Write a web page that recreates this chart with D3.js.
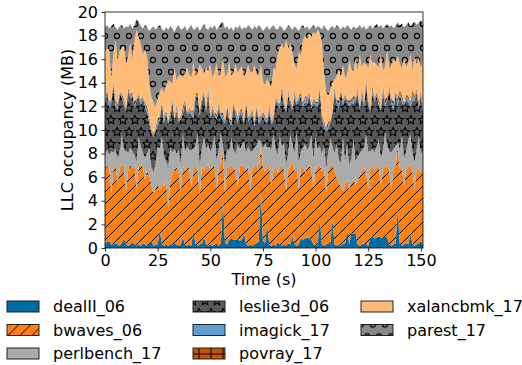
<!DOCTYPE html>
<html>
<head>
<meta charset="utf-8">
<script src="https://cdn.jsdelivr.net/npm/d3@7/dist/d3.min.js"></script>
<style>
  body { margin: 0; background: #fff; }
  svg text { font-family: "DejaVu Sans", sans-serif; }
</style>
</head>
<body>
<div id="chart"></div>
<script>
// benchmarks, in stacking order (bottom -> top)
const benchmarks = ["dealII_06", "bwaves_06", "perlbench_17", "leslie3d_06",
  "imagick_17", "povray_17", "xalancbmk_17", "parest_17"];

// sampled once per second, 0..151 s
const time = d3.range(0, 152);

// LLC occupancy per benchmark (MB)
const dealII = [
  0.4,0.5,0.6,0.3,0.3,0.4,0.3,0.2,0.4,0.8, 0.3,0.2,0.3,0.5,0.3,0.2,0.3,0.2,0.4,0.3,
  0.2,0.3,0.6,0.2,0.3,0.3,1.5,0.3,0.2,0.3, 0.2,0.3,0.2,0.4,0.3,0.2,0.3,0.9,0.3,0.2,
  0.3,0.2,1.4,0.3,0.2,0.3,0.4,0.9,0.3,0.2, 0.3,0.2,0.3,0.4,0.2,0.3,4.2,0.4,0.3,0.7,
  0.8,0.7,0.7,0.8,0.6,0.7,1.2,0.3,0.2,0.3, 0.2,0.3,0.4,0.5,4.8,0.6,0.4,2.0,0.3,0.2,
  0.3,0.2,0.5,0.3,0.2,0.3,0.2,0.4,0.3,1.0, 0.3,0.2,0.3,0.8,0.7,0.8,0.9,0.8,0.7,0.3,
  0.2,0.3,2.5,0.3,0.2,0.3,0.4,0.3,2.4,0.3, 0.2,0.3,0.2,0.3,0.4,1.5,0.3,1.3,1.2,1.3,
  0.3,0.2,0.3,0.4,0.3,0.2,0.9,1.0,0.8,0.9, 1.0,0.9,0.8,1.0,0.9,0.3,0.2,0.3,0.4,3.4,
  0.3,0.2,0.3,0.4,0.3,1.2,0.3,0.2,0.3,0.4,0.6,0.3];

const bwaves = [
  6.4,6.5,6.3,4.3,6.4,6.7,5.2,6.6,6.8,6.1, 4.5,6.4,6.7,6.3,6.8,4.8,6.6,7.0,6.4,5.5,
  6.4,5.9,4.8,4.4,4.7,5.3,3.3,5.2,5.0,5.5, 3.2,5.3,6.1,6.2,6.5,6.3,4.5,6.0,6.3,6.8,
  6.4,5.0,5.4,6.7,6.3,4.2,6.5,5.7,6.5,6.9, 6.4,6.7,6.7,4.6,6.6,6.8,4.0,4.2,6.6,6.0,
  6.2,6.1,5.8,4.4,6.3,6.4,5.6,6.3,6.8,4.5, 6.5,6.6,6.7,6.1,3.9,6.2,6.1,4.9,6.7,5.0,
  6.3,6.7,5.9,6.5,6.8,6.3,4.7,6.3,6.6,6.3, 6.2,6.6,4.7,5.9,6.2,5.6,5.9,6.2,5.9,4.8,
  6.5,6.6,4.5,6.2,6.6,4.4,6.2,6.6,4.7,6.2, 5.8,5.3,5.0,4.5,5.0,4.3,4.7,4.2,4.7,4.0,
  5.5,5.9,6.3,6.4,6.1,4.8,5.8,5.9,5.8,6.1, 5.8,4.5,5.9,5.9,6.1,6.3,4.6,6.5,6.6,5.2,
  6.4,6.7,5.0,6.2,6.5,5.9,6.2,4.7,6.5,6.3,5.8,6.3];

const perlbench = [
  1.2,1.3,1.0,3.6,1.4,1.3,2.1,1.4,2.4,1.4, 3.4,1.5,1.5,1.4,0.8,2.3,2.5,1.4,1.3,1.8,
  1.4,2.3,1.5,1.8,2.2,3.0,3.6,4.0,2.6,1.6, 3.4,2.9,1.8,1.8,1.2,1.8,2.3,2.8,1.6,1.6,
  1.6,3.1,1.6,1.7,3.3,2.5,1.6,2.8,1.6,1.7, 1.5,1.6,2.6,2.4,1.5,2.6,0.5,2.4,1.5,1.5,
  2.4,1.5,1.5,3.6,1.5,1.6,2.3,1.5,1.6,3.4, 1.5,1.6,1.6,2.6,0.3,1.6,2.4,1.6,1.6,3.1,
  3.1,1.5,1.5,2.7,1.6,2.3,2.1,1.5,2.7,1.6, 1.5,3.1,2.3,1.5,1.6,2.5,1.5,1.6,3.0,2.4,
  2.7,1.5,1.6,1.5,1.9,2.1,1.5,2.4,1.5,1.5, 2.9,1.9,2.0,4.6,2.0,3.0,2.0,2.1,3.3,2.1,
  2.0,1.9,1.7,1.7,3.3,3.2,1.5,1.5,1.5,1.6, 2.4,2.2,1.6,2.9,1.7,1.6,3.3,1.6,1.6,0.4,
  1.6,2.7,2.3,1.6,2.4,2.5,1.6,2.4,1.6,2.8,1.6,1.6];

const leslie3d = [
  4.2,5.0,4.0,4.1,5.7,3.6,4.1,4.8,3.2,3.8, 3.4,5.2,4.2,4.7,4.0,5.2,3.4,3.5,4.6,4.4,
  3.5,2.1,2.9,3.0,2.7,1.8,2.4,2.7,2.8,4.1, 3.7,2.5,4.3,2.4,3.6,2.4,3.8,1.7,4.1,2.6,
  3.2,3.0,2.6,4.1,3.0,4.2,3.9,3.6,3.1,4.4, 2.8,3.0,1.6,3.5,3.6,1.4,2.1,3.6,3.5,2.5,
  1.0,3.8,3.3,1.8,3.0,2.5,1.4,4.1,2.1,2.8, 3.2,1.8,3.2,1.3,1.9,2.9,1.8,2.1,3.0,2.2,
  1.1,4.0,4.3,2.3,4.8,3.1,4.5,4.7,2.7,2.8, 4.8,2.2,5.2,4.6,3.5,3.5,3.9,4.4,2.2,4.8,
  2.7,3.5,4.8,3.0,1.5,3.1,2.0,1.3,2.8,5.1, 3.4,4.3,6.1,2.7,5.4,3.6,5.0,4.7,3.0,5.1,
  5.2,3.7,4.6,3.4,4.2,3.9,3.3,4.6,4.3,4.3, 2.9,4.0,4.9,2.2,3.8,5.1,4.1,3.3,4.5,3.0,
  4.7,2.7,4.5,4.3,3.2,2.4,4.4,5.2,4.9,2.3,4.9,3.4];

const imagick = [
  0.2,0.1,0.3,0.2,0.1,0.4,0.2,0.1,0.2,0.3, 0.1,0.2,0.1,0.3,0.2,0.1,0.2,0.3,0.1,0.2,
  0.3,0.5,0.2,0.1,0.2,0.3,0.2,0.1,0.4,0.2, 0.2,0.3,0.1,0.2,0.4,0.2,0.1,0.3,0.2,0.1,
  0.3,0.2,0.5,0.2,0.1,0.3,0.2,0.4,0.2,0.3, 0.2,0.4,0.2,0.1,0.3,0.2,0.5,0.2,0.3,0.1,
  0.3,0.2,0.1,0.4,0.2,0.3,0.2,0.1,0.3,0.2, 0.2,0.3,0.2,0.4,0.2,0.1,0.3,0.2,0.4,0.2,
  0.3,0.2,0.1,0.3,0.2,0.4,0.2,0.3,0.1,0.2, 0.4,0.2,0.3,0.1,0.2,0.3,0.5,0.2,0.1,0.3,
  0.2,0.3,0.1,0.2,0.4,0.2,0.3,0.1,0.2,0.3, 0.2,0.4,0.1,0.3,0.2,0.1,0.3,0.2,0.4,0.2,
  0.3,0.2,0.4,0.1,0.2,0.3,0.2,0.5,0.2,0.1, 0.3,0.2,0.4,0.2,0.1,0.3,0.2,0.5,0.2,0.3,
  0.2,0.4,0.1,0.3,0.2,0.3,0.5,0.2,0.1,0.3,0.2,0.3];

const povray = [
  0.1,0.2,0.1,0.1,0.2,0.1,0.3,0.1,0.1,0.2, 0.1,0.1,0.2,0.1,0.3,0.1,0.1,0.2,0.1,0.1,
  0.2,0.1,0.1,0.2,0.1,0.3,0.1,0.2,0.1,0.1, 0.1,0.2,0.1,0.1,0.2,0.1,0.1,0.3,0.1,0.2,
  0.1,0.1,0.2,0.1,0.3,0.1,0.2,0.1,0.1,0.2, 0.1,0.2,0.1,0.3,0.1,0.1,0.2,0.1,0.1,0.2,
  0.1,0.1,0.2,0.1,0.1,0.3,0.1,0.2,0.1,0.1, 0.2,0.1,0.1,0.2,0.1,0.1,0.2,0.1,0.3,0.1,
  0.1,0.2,0.1,0.1,0.3,0.1,0.1,0.2,0.1,0.1, 0.2,0.1,0.1,0.3,0.1,0.2,0.1,0.1,0.2,0.1,
  0.1,0.2,0.1,0.1,0.2,0.1,0.3,0.1,0.1,0.2, 0.1,0.3,0.1,0.2,0.1,0.1,0.2,0.1,0.3,0.1,
  0.2,0.1,0.3,0.2,0.4,0.1,0.2,0.3,0.1,0.2, 0.3,0.1,0.2,0.4,0.2,0.1,0.3,0.2,0.1,0.4,
  0.2,0.3,0.1,0.2,0.3,0.1,0.4,0.2,0.1,0.2,0.3,0.1];

const xalancbmk = [
  4.1,3.3,4.5,1.7,2.4,5.1,3.7,3.5,3.9,4.5, 3.8,2.7,4.4,2.7,5.2,5.8,4.8,4.6,3.5,4.5,
  4.2,2.8,2.7,2.6,1.8,1.6,2.1,1.1,2.0,2.0, 3.4,2.6,1.3,4.2,2.0,3.6,3.5,2.5,2.2,3.8,
  2.8,2.8,4.1,1.5,1.7,4.0,2.4,1.3,3.5,1.3, 4.3,2.3,3.4,4.4,2.3,3.4,4.8,3.6,2.4,4.8,
  3.8,2.5,4.0,3.7,3.5,3.6,3.7,2.4,4.4,3.5, 3.2,4.8,2.6,3.5,4.3,2.7,2.6,3.4,1.7,2.9,
  4.0,2.4,4.0,4.8,3.4,4.3,5.9,3.5,4.9,4.5, 2.2,2.8,3.7,3.1,5.3,5.1,4.9,4.9,5.8,5.6,
  5.7,6.1,4.6,6.1,4.0,3.0,2.2,2.6,2.3,0.7, 2.0,2.6,1.0,2.9,1.3,2.1,3.4,2.6,2.1,3.2,
  1.6,4.4,1.7,3.5,1.1,2.7,4.5,1.9,3.0,2.3, 2.6,4.5,1.2,2.8,4.0,1.5,2.8,3.6,2.4,3.6,
  2.2,2.2,3.8,2.3,2.8,4.0,1.7,3.3,2.1,3.8,1.8,4.0];

const parest = [
  2.1,2.0,1.8,4.5,2.5,1.1,2.6,2.1,1.9,1.5, 3.2,2.4,1.6,2.6,1.3,0.9,1.3,1.6,2.2,2.1,
  2.5,4.4,5.8,6.5,6.5,6.1,5.7,5.0,5.3,4.9, 4.3,4.7,4.7,3.0,4.5,4.3,3.9,4.1,4.0,3.1,
  4.0,4.5,2.7,4.0,3.9,2.8,3.5,4.2,3.3,3.5, 3.2,4.2,4.0,2.8,4.1,4.2,2.9,4.1,4.1,2.7,
  4.1,3.5,3.2,3.8,3.7,3.1,4.2,3.7,3.4,3.9, 3.5,3.3,3.8,4.3,3.2,4.2,4.8,4.5,4.5,5.0,
  3.7,3.4,2.1,1.8,1.4,1.6,0.9,2.0,1.3,2.0, 3.2,3.4,1.8,2.4,1.3,0.6,1.1,0.3,0.8,0.6,
  0.5,0.3,0.5,1.1,4.1,5.4,5.5,5.3,4.8,4.3, 4.3,3.6,4.0,3.3,4.2,4.2,2.8,3.3,3.8,2.6,
  3.6,2.5,3.3,3.1,2.9,3.5,2.5,2.9,3.1,3.5, 3.4,2.5,3.6,3.4,2.2,3.5,3.4,2.6,3.0,2.8,
  3.3,3.8,2.6,3.6,3.4,2.4,3.9,3.0,3.3,3.0,4.1,3.0];

const yTicks = [0, 2, 4, 6, 8, 10, 12, 14, 16, 18, 20];
const xTicks = [0, 25, 50, 75, 100, 125, 150];

const seriesValues = [dealII, bwaves, perlbench, leslie3d, imagick, povray, xalancbmk, parest];
const fills = ["#006BA4", "#FF800E", "#ABABAB", "#595959", "#5F9ED1", "#C85200", "#FFBC79", "#898989"];
const hatches = [null, "slash", null, "star", null, "plus", null, "circle"];

// rows for d3.stack
const rows = time.map((t, i) => {
  const r = { t: t };
  benchmarks.forEach((b, j) => { r[b] = seriesValues[j][i]; });
  return r;
});

const W = 522, H = 365;
const margin = { top: 12, right: 99, bottom: 117, left: 105 };
const width = W - margin.left - margin.right;
const height = H - margin.top - margin.bottom;

const svg = d3.select("#chart").append("svg")
  .attr("width", W).attr("height", H);

// hatch patterns (matplotlib style, 12px cells)
const defs = svg.append("defs");
function addPattern(id, color, kind) {
  const tall = (kind === "star" || kind === "circle");
  const p = defs.append("pattern").attr("id", id)
    .attr("patternUnits", "userSpaceOnUse")
    .attr("width", 12).attr("height", tall ? 24 : 12);
  p.append("rect").attr("width", 12).attr("height", tall ? 24 : 12).attr("fill", color);
  if (kind === "slash") {
    p.append("path").attr("d", "M0,12L12,0M-6,6L6,-6M6,18L18,6")
      .attr("stroke", "#000").attr("stroke-width", 1).attr("fill", "none");
  } else if (kind === "plus") {
    p.append("path").attr("d", "M6,0V12M0,6H12")
      .attr("stroke", "#000").attr("stroke-width", 1).attr("fill", "none");
  } else {
    const pts = [[0, 0], [12, 0], [6, 12], [0, 24], [12, 24]];
    pts.forEach(([cx, cy]) => {
      if (kind === "circle") {
        p.append("circle").attr("cx", cx).attr("cy", cy).attr("r", 2.6)
          .attr("fill", "none").attr("stroke", "#000").attr("stroke-width", 1.2);
      } else {
        const star = d3.range(10).map(k => {
          const a = Math.PI / 2 + k * Math.PI / 5;
          const rr = k % 2 === 0 ? 4.5 : 2.2;
          return [cx + rr * Math.cos(a), cy - rr * Math.sin(a)];
        });
        p.append("path").attr("d", "M" + star.join("L") + "Z")
          .attr("fill", "none").attr("stroke", "#000").attr("stroke-width", 1.1);
      }
    });
  }
}
benchmarks.forEach((b, j) => {
  if (hatches[j]) addPattern("hatch" + j, fills[j], hatches[j]);
});
const fillOf = j => hatches[j] ? "url(#hatch" + j + ")" : fills[j];

const g = svg.append("g")
  .attr("transform", "translate(" + margin.left + "," + margin.top + ")");

const x = d3.scaleLinear().domain([0, 151]).range([0, width]);
const y = d3.scaleLinear().domain([0, 20]).range([height, 0]);

const stacked = d3.stack().keys(benchmarks)(rows);
const area = d3.area()
  .x(d => x(d.data.t))
  .y0(d => y(d[0]))
  .y1(d => y(d[1]));

g.selectAll(".layer").data(stacked).enter()
  .append("path")
  .attr("class", "layer")
  .attr("d", area)
  .attr("fill", (d, j) => fillOf(j))
  .attr("stroke", "none");

// axes
const xAxis = d3.axisBottom(x).tickValues(xTicks).tickSize(3.5).tickPadding(3.5);
const yAxis = d3.axisLeft(y).tickValues(yTicks).tickSize(3.5).tickPadding(3.5);

g.append("g").attr("class", "x-axis")
  .attr("transform", "translate(0," + height + ")").call(xAxis);
g.append("g").attr("class", "y-axis").call(yAxis);

g.selectAll(".domain").remove();
g.selectAll(".tick line").attr("stroke", "#000").attr("stroke-width", 0.8);
g.selectAll(".tick text").attr("fill", "#000")
  .style("font-size", "16px").style("font-family", "DejaVu Sans, sans-serif");

// frame
g.append("rect").attr("width", width).attr("height", height)
  .attr("fill", "none").attr("stroke", "#000").attr("stroke-width", 0.8);

// axis labels
g.append("text")
  .attr("x", width / 2).attr("y", height + 37)
  .attr("text-anchor", "middle").style("font-size", "16px")
  .text("Time (s)");

g.append("text")
  .attr("transform", "translate(-32," + (height / 2) + ") rotate(-90)")
  .attr("text-anchor", "middle").style("font-size", "16px")
  .text("LLC occupancy (MB)");

// legend: 3 columns, filled column by column
const colX = [7, 193, 361];
const rowY = [301, 324.5, 348];
const legend = svg.append("g").attr("class", "legend");
benchmarks.forEach((b, j) => {
  const col = Math.floor(j / 3), row = j % 3;
  const item = legend.append("g")
    .attr("transform", "translate(" + colX[col] + "," + rowY[row] + ")");
  item.append("rect").attr("width", 32).attr("height", 11)
    .attr("fill", fillOf(j)).attr("stroke", "#222").attr("stroke-width", 1);
  item.append("text").attr("x", 46).attr("y", 11)
    .style("font-size", "16px").text(b);
});
</script>
</body>
</html>
